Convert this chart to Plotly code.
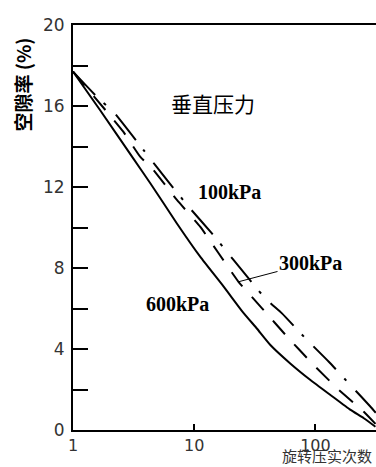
import numpy as np
import plotly.graph_objects as go

# Gyratory compaction: air voids vs. number of gyrations at three vertical pressures
n_600 = [1, 1.67, 3.15, 4.33, 7.2, 11.2, 17.5, 25, 33, 42.5, 62, 91, 133, 195, 251, 313]
v_600 = [17.7, 15.8, 13.4, 12.2, 10.2, 8.56, 7.08, 5.85, 5.0, 4.2, 3.29, 2.47, 1.73, 0.99, 0.58, 0.16]

n_300 = [1, 2.6, 3.58, 4.61, 7.2, 11.2, 15.9, 23.2, 36.3, 58.4, 94, 151, 251, 313]
v_300 = [17.7, 14.73, 13.5, 12.84, 11.36, 10.04, 8.73, 7.32, 6.01, 4.61, 3.29, 2.06, 0.9, 0.3]

n_100 = [1, 1.62, 2.15, 3.81, 5.95, 8.98, 14, 21.1, 38.6, 53, 82.6, 129, 200, 285, 315]
v_100 = [17.7, 16.38, 15.72, 13.83, 12.35, 11.03, 9.71, 8.40, 6.5, 5.76, 4.53, 3.37, 2.14, 1.15, 0.85]

x_ticks = [1, 10, 100]
y_major = [0, 4, 8, 12, 16, 20]
y_minor = [2, 6, 10, 14, 18]

leader_n = 23.2  # where the 300kPa label points on its curve

fig = go.Figure()
line_kw = dict(color="black", width=2)
fig.add_trace(go.Scatter(x=n_600, y=v_600, mode="lines",
                         line=dict(**line_kw, shape="spline", smoothing=0.5),
                         showlegend=False))
fig.add_trace(go.Scatter(x=n_300, y=v_300, mode="lines",
                         line=dict(**line_kw, dash="18px,14px", shape="spline", smoothing=0.4),
                         showlegend=False))
fig.add_trace(go.Scatter(x=n_100, y=v_100, mode="lines",
                         line=dict(**line_kw, dash="32px,12px,3px,14px", shape="spline", smoothing=0.4),
                         showlegend=False))

tick_font = dict(family="DejaVu Sans", size=17, color="#333")
x_tick_font = dict(family="DejaVu Sans", size=16, color="#333")
serif_bold = dict(family="Liberation Serif", size=20, color="black")
cjk = "Noto Sans CJK SC"

leader_v = float(np.interp(np.log10(leader_n), np.log10(n_300), v_300))

annotations = [
    dict(text="垂直压力", x=1.155, y=16.15, xref="x", yref="y", showarrow=False,
         font=dict(family=cjk, size=21, color="black")),
    dict(text="<b>100kPa</b>", x=1.295, y=11.75, xref="x", yref="y", showarrow=False,
         font=serif_bold),
    dict(text="<b>300kPa</b>", x=np.log10(leader_n), y=leader_v, xref="x", yref="y",
         showarrow=True, arrowhead=0, arrowwidth=1, arrowcolor="black",
         ax=72, ay=-19, standoff=0, font=serif_bold),
    dict(text="<b>600kPa</b>", x=0.862, y=6.22, xref="x", yref="y", showarrow=False,
         font=serif_bold),
    dict(text="<b>空隙率 (%)</b>", x=-0.165, y=0.853, xref="paper", yref="paper",
         textangle=-90, showarrow=False, xanchor="center", yanchor="middle",
         font=dict(family=cjk, size=19, color="black")),
    dict(text="旋转压实次数", x=0.99, y=-0.0905, xref="paper", yref="paper",
         showarrow=False, xanchor="right", yanchor="bottom", borderpad=0,
         font=dict(family=cjk, size=15, color="#333")),
]

fig.update_layout(
    width=376, height=467, autosize=False,
    margin=dict(l=73, r=0, t=25, b=37),
    paper_bgcolor="white", plot_bgcolor="white",
    annotations=annotations,
    xaxis=dict(type="log", range=[0, 2.5], tickvals=x_ticks,
               ticktext=[str(v) for v in x_ticks],
               ticks="inside", ticklen=6, tickwidth=2, tickcolor="black",
               showline=True, linewidth=2, linecolor="black", mirror=True,
               showgrid=False, zeroline=False, tickfont=x_tick_font,
               ticklabelstandoff=0),
    yaxis=dict(range=[0, 20], tickvals=y_major,
               ticktext=[str(v) for v in y_major],
               ticks="inside", ticklen=15, tickwidth=2, tickcolor="black",
               minor=dict(tickvals=y_minor, ticks="inside", ticklen=15,
                          tickwidth=2, tickcolor="black", showgrid=False),
               showline=True, linewidth=2, linecolor="black",
               showgrid=False, zeroline=False, tickfont=tick_font,
               ticklabelstandoff=3),
)

fig.write_html("out.html")
